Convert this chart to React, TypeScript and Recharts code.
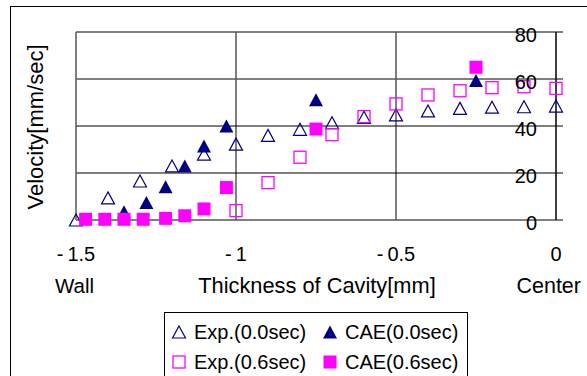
import React from 'react';
import { ScatterChart, Scatter, XAxis, YAxis, CartesianGrid, ReferenceLine } from 'recharts';

// measured data (x = position in cavity [mm], y = velocity [mm/sec])
const expX = [-1.5, -1.4, -1.3, -1.2, -1.1, -1.0, -0.9, -0.8, -0.7, -0.6, -0.5, -0.4, -0.3, -0.2, -0.1, 0];
const exp00 = [0, 9.4, 16.6, 23, 28, 32.3, 36, 38.6, 41.4, 43.7, 44.7, 46.4, 47.5, 48, 48.2, 48.5];
const exp06X = [-1.0, -0.9, -0.8, -0.7, -0.6, -0.5, -0.4, -0.3, -0.2, -0.1, 0];
const exp06 = [4, 15.9, 26.7, 36.3, 44, 49.4, 53.2, 55, 56.3, 56.7, 56];
const cae00X = [-1.35, -1.28, -1.22, -1.16, -1.1, -1.03, -0.75, -0.25];
const cae00 = [3.5, 7.4, 14.2, 23, 31.5, 40, 51.2, 59.4];
const cae06X = [-1.47, -1.41, -1.35, -1.29, -1.22, -1.16, -1.1, -1.03, -0.75, -0.25];
const cae06 = [0.3, 0.3, 0.3, 0.3, 0.7, 1.8, 4.7, 13.8, 38.7, 65];

const xTicks = [-1.5, -1, -0.5, 0];
const yTicks = [0, 20, 40, 60, 80];
const grayLinesY = [0, 60, 80];

const NAVY = '#000080';
const MAGENTA = '#ff00ff';

const pts = (xs: number[], ys: number[]) => xs.map((x, i) => ({ x, y: ys[i] }));

const OpenTri = (p: any) => (
  <path d={`M${p.cx},${p.cy - 6} L${p.cx + 6.5},${p.cy + 6} L${p.cx - 6.5},${p.cy + 6} Z`}
    fill="none" stroke={NAVY} strokeWidth={1.2} />
);
const FilledTri = (p: any) => (
  <path d={`M${p.cx},${p.cy - 6.5} L${p.cx + 7},${p.cy + 6.5} L${p.cx - 7},${p.cy + 6.5} Z`} fill={NAVY} />
);
const OpenSq = (p: any) => (
  <rect x={p.cx - 6} y={p.cy - 6} width={12} height={12} fill="none" stroke={MAGENTA} strokeWidth={1.3} />
);
const FilledSq = (p: any) => (
  <rect x={p.cx - 6.5} y={p.cy - 6.5} width={13} height={13} fill={MAGENTA} />
);

const fmtX = (v: number) => (v < 0 ? `-\u2009${Math.abs(v)}` : `${v}`);

const RightTick = (props: any) => (
  <text x={props.x - 26} y={props.y + 10} textAnchor="end" fontSize={20} fill="#000">
    {props.payload.value}
  </text>
);

const XTitle = (props: any) => {
  const vb = props.viewBox;
  const y = vb.y + 73;
  return (
    <g fill="#000">
      <text x={vb.x - 21} y={y} fontSize={20.5}>Wall</text>
      <text x={vb.x + vb.width / 2 + 1} y={y} fontSize={21.8} textAnchor="middle">Thickness of Cavity[mm]</text>
      <text x={vb.x + vb.width + 25} y={y} fontSize={21.5} textAnchor="end">Center</text>
    </g>
  );
};

const YTitle = (props: any) => {
  const vb = props.viewBox;
  const x = vb.x + 33;
  const y = vb.y + vb.height / 2 + 1;
  return (
    <text x={x} y={y} transform={`rotate(-90, ${x}, ${y})`} fontSize={22} textAnchor="middle" fill="#000">
      Velocity[mm/sec]
    </text>
  );
};

const legendItems = [
  { label: 'Exp.(0.0sec)', Shape: OpenTri, left: 14, top: 19 },
  { label: 'CAE(0.0sec)', Shape: FilledTri, left: 165, top: 19 },
  { label: 'Exp.(0.6sec)', Shape: OpenSq, left: 14, top: 49 },
  { label: 'CAE(0.6sec)', Shape: FilledSq, left: 165, top: 49 },
];

const ChartLegend = () => (
  <div style={{ position: 'absolute', left: 164, top: 312, width: 302, height: 80, border: '1px solid #000', background: '#fff' }}>
    {legendItems.map(({ label, Shape, left, top }) => (
      <div key={label} style={{ position: 'absolute', left: left - 8, top: top - 12, height: 24, display: 'flex', alignItems: 'center' }}>
        <svg width={16} height={16} style={{ display: 'block' }}>
          <Shape cx={8} cy={8} />
        </svg>
        <span style={{ fontSize: 20, marginLeft: 7, lineHeight: '24px', color: '#000' }}>{label}</span>
      </div>
    ))}
  </div>
);

export default function App() {
  return (
    <div style={{ position: 'absolute', left: 0, top: 0, width: 587, height: 376, overflow: 'hidden', background: '#fff', fontFamily: '"Liberation Sans", Arial, sans-serif' }}>
      <div style={{ position: 'absolute', left: 10, top: 6, width: 620, height: 420, borderLeft: '1.5px solid #000', borderTop: '1.5px solid #000' }} />
      <div style={{ position: 'absolute', left: 0, top: 0 }}>
        <ScatterChart width={587} height={376} margin={{ top: 32, right: 11, left: 10, bottom: 76 }}>
          <CartesianGrid yAxisId="right" stroke="#000" strokeWidth={1} />
          <XAxis dataKey="x" type="number" domain={[-1.5, 0]} ticks={xTicks} tickFormatter={fmtX}
            axisLine={false} tickLine={false} tickSize={0} tickMargin={27} height={80}
            tick={{ fontSize: 20, fill: '#000' }} label={<XTitle />} />
          <YAxis yAxisId="left" dataKey="y" type="number" domain={[0, 80]} ticks={yTicks} width={66}
            tick={false} axisLine={false} tickLine={false} label={<YTitle />} />
          <YAxis yAxisId="right" dataKey="y" orientation="right" type="number" domain={[0, 80]} ticks={yTicks}
            width={20} tickSize={7} tickMargin={0} axisLine={{ stroke: '#000' }} tickLine={{ stroke: '#000' }}
            tick={<RightTick />} />
          {grayLinesY.map((v) => (
            <ReferenceLine key={v} yAxisId="right" y={v} stroke="#808080" />
          ))}
          <ReferenceLine yAxisId="right" x={-1.5} stroke="#808080" />
          <Scatter name="Exp.(0.0sec)" yAxisId="right" data={pts(expX, exp00)} shape={OpenTri} isAnimationActive={false} />
          <Scatter name="CAE(0.0sec)" yAxisId="right" data={pts(cae00X, cae00)} shape={FilledTri} isAnimationActive={false} />
          <Scatter name="Exp.(0.6sec)" yAxisId="right" data={pts(exp06X, exp06)} shape={OpenSq} isAnimationActive={false} />
          <Scatter name="CAE(0.6sec)" yAxisId="right" data={pts(cae06X, cae06)} shape={FilledSq} isAnimationActive={false} />
        </ScatterChart>
      </div>
      <ChartLegend />
    </div>
  );
}
